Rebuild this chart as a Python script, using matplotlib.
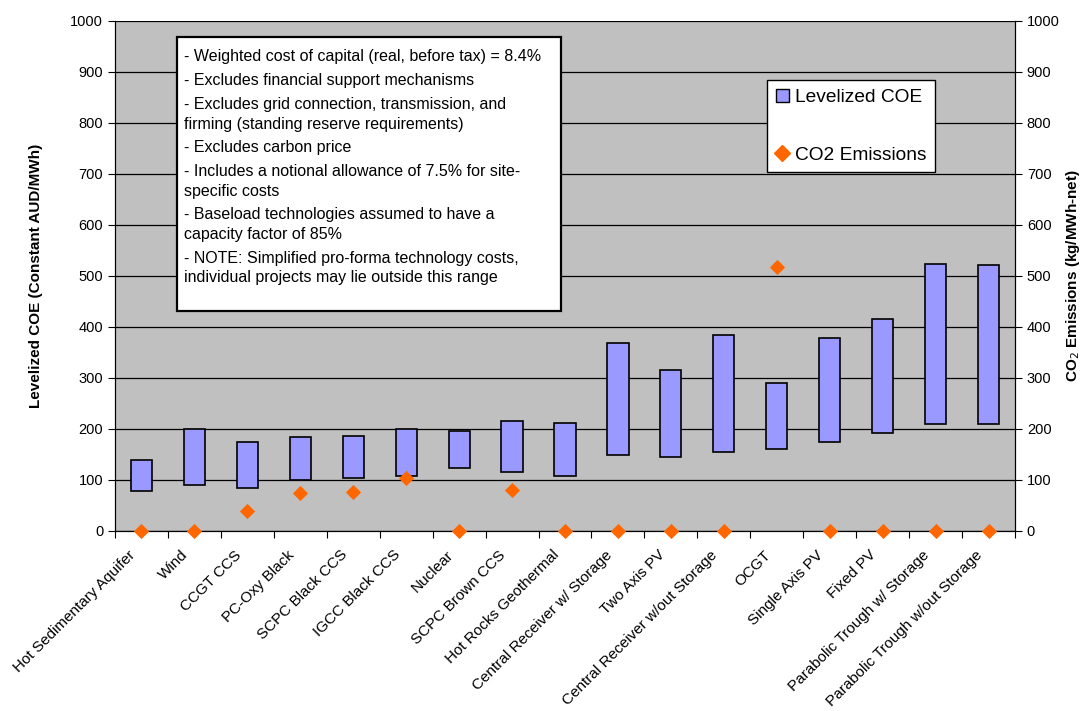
import matplotlib
matplotlib.use("Agg")
import matplotlib.pyplot as plt
import numpy as np
from matplotlib.lines import Line2D
from matplotlib.patches import Patch, Rectangle

plt.rcParams['font.family'] = ['Liberation Sans', 'DejaVu Sans']

categories = ["Hot Sedimentary Aquifer", "Wind", "CCGT CCS", "PC-Oxy Black",
              "SCPC Black CCS", "IGCC Black CCS", "Nuclear", "SCPC Brown CCS",
              "Hot Rocks Geothermal", "Central Receiver w/ Storage", "Two Axis PV",
              "Central Receiver w/out Storage", "OCGT", "Single Axis PV", "Fixed PV",
              "Parabolic Trough w/ Storage", "Parabolic Trough w/out Storage"]
coe_low = [77, 89, 83, 99, 102, 107, 123, 114, 107, 148, 145, 154, 159, 174, 191, 209, 209]
coe_high = [139, 199, 174, 184, 186, 199, 196, 214, 210, 368, 314, 384, 290, 377, 415, 522, 520]
co2 = [0, 0, 38, 73, 75, 103, 0, 79, 0, 0, 0, 0, 516, 0, 0, 0, 0]
yticks = [0, 100, 200, 300, 400, 500, 600, 700, 800, 900, 1000]

notes = [
    ["- Weighted cost of capital (real, before tax) = 8.4%"],
    ["- Excludes financial support mechanisms"],
    ["- Excludes grid connection, transmission, and", "firming (standing reserve requirements)"],
    ["- Excludes carbon price"],
    ["- Includes a notional allowance of 7.5% for site-", "specific costs"],
    ["- Baseload technologies assumed to have a", "capacity factor of 85%"],
    ["- NOTE: Simplified pro-forma technology costs,", "individual projects may lie outside this range"],
]

W, H = 1083, 711
fig = plt.figure(figsize=(W / 100, H / 100), dpi=100)
ax_l, ax_r, ax_t, ax_b = 115, 1015, 20.5, 530.5
ax = fig.add_axes([ax_l / W, 1 - ax_b / H, (ax_r - ax_l) / W, (ax_b - ax_t) / H])
ax.set_facecolor('#C0C0C0')
x = np.arange(len(categories))
low = np.array(coe_low)
high = np.array(coe_high)
ax.bar(x, high - low, bottom=low, width=0.4, color='#9999FF', edgecolor='black', linewidth=1.2, zorder=3)
ax.set_xlim(-0.5, len(categories) - 0.5)
ax.set_ylim(0, 1000)
ax.set_yticks(yticks)
ax.yaxis.grid(True, color='black', linewidth=0.9, zorder=0)
ax.set_axisbelow(True)
ax.tick_params(axis='y', labelsize=10.5, direction='out', length=5)
ax.set_xticks(np.arange(len(categories) + 1) - 0.5)
ax.set_xticklabels([])
ax.tick_params(axis='x', direction='out', length=5)
for xi, lab in zip(x, categories):
    ax.annotate(lab, xy=(xi, 0), xycoords=('data', 'axes fraction'),
                xytext=(-6, -16), textcoords='offset points',
                rotation=45, ha='right', va='center', rotation_mode='anchor', fontsize=11)
ax.spines['top'].set_visible(False)
ax.set_ylabel('Levelized COE (Constant AUD/MWh)', fontsize=11, fontweight='bold', labelpad=20)

ax2 = ax.twinx()
ax2.set_ylim(0, 1000)
ax2.set_yticks(yticks)
ax2.tick_params(axis='y', labelsize=10.5, direction='out', length=5)
ax2.scatter(x, co2, marker='D', s=60, color='#FF6600', zorder=5, clip_on=False, linewidths=0)
ax2.spines['top'].set_visible(False)
ax2.set_ylabel('CO$_2$ Emissions (kg/MWh-net)', fontsize=11, fontweight='bold', labelpad=3)

# notes box (pixel layout converted to axes fraction)
def fx(px):
    return (px - ax_l) / (ax_r - ax_l)

def fy(py):
    return (ax_b - py) / (ax_b - ax_t)

ax2.add_patch(Rectangle((fx(177), fy(311)), fx(561) - fx(177), fy(37) - fy(311),
                        transform=ax2.transAxes, facecolor='white', edgecolor='black',
                        linewidth=1.6, zorder=10, clip_on=False))
yline = 57
for para in notes:
    for j, line in enumerate(para):
        ax2.text(fx(184), fy(yline), line, transform=ax2.transAxes, fontsize=11.5,
                 ha='left', va='center', zorder=11)
        yline += 19.5 if j < len(para) - 1 else 0
    yline += 23.8

handles = [Patch(facecolor='#9999FF', edgecolor='black', label='Levelized COE'),
           Line2D([], [], marker='D', color='#FF6600', linestyle='none', markersize=8, label='CO2 Emissions')]
leg = ax2.legend(handles=handles, loc='upper left', bbox_to_anchor=(fx(767), fy(80)),
                 fontsize=13.8, frameon=True, fancybox=False, edgecolor='black', framealpha=1,
                 labelspacing=2.1, handlelength=0.7, handleheight=0.7, handletextpad=0.3,
                 borderpad=0.45, borderaxespad=0)
leg.get_frame().set_linewidth(1.0)
leg.set_zorder(12)

fig.savefig('out.png', dpi=100)
